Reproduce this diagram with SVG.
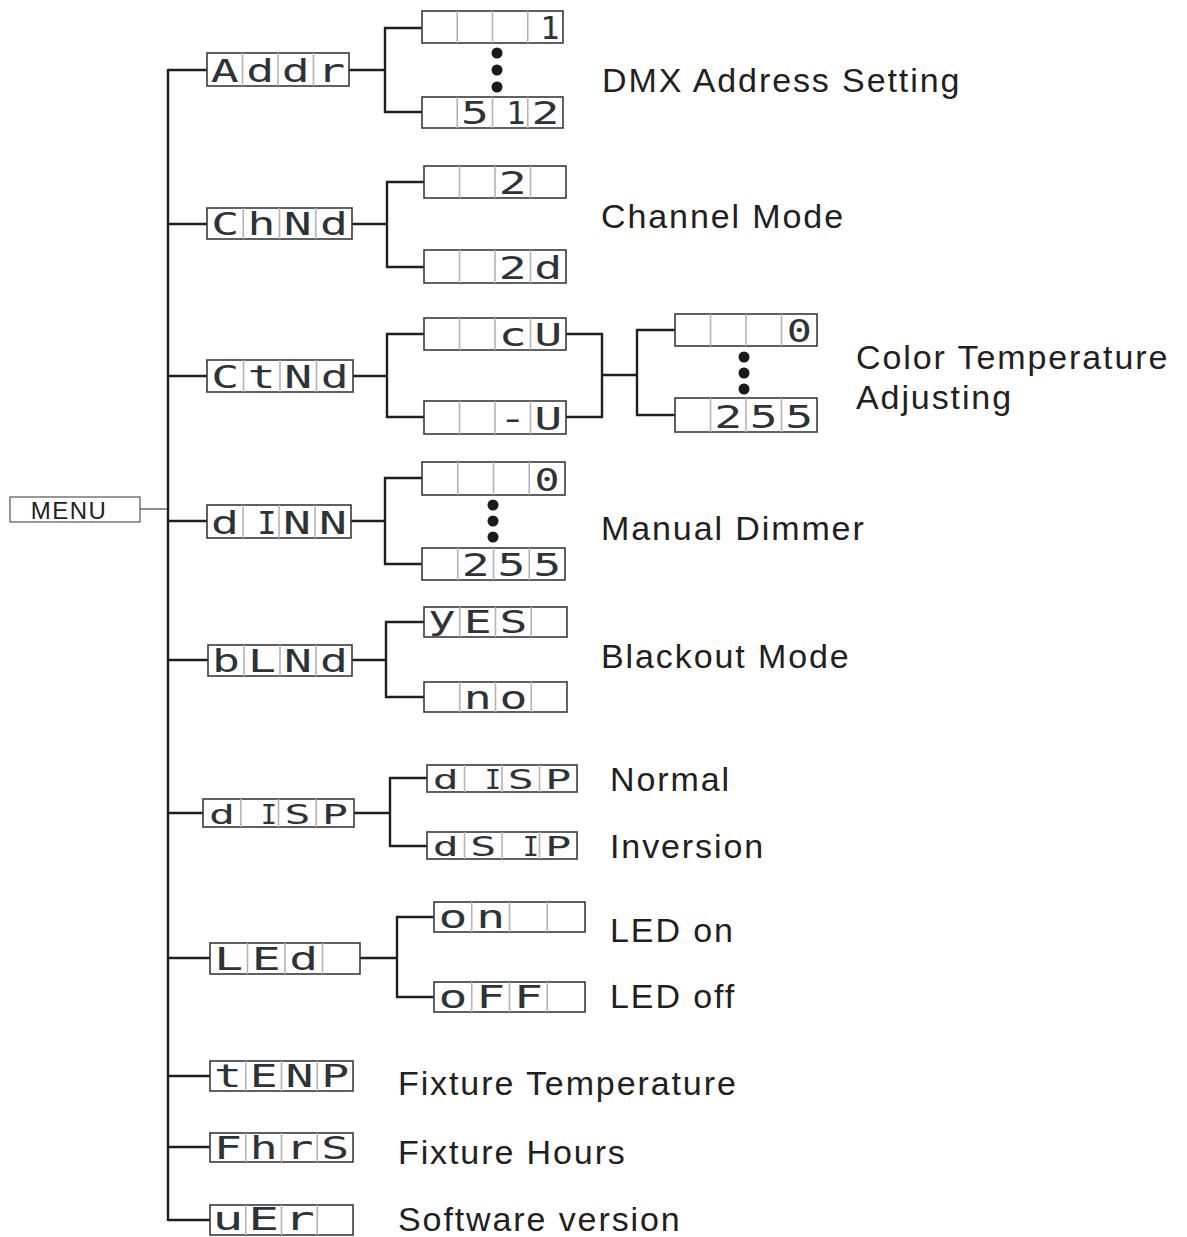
<svg xmlns="http://www.w3.org/2000/svg" width="1187" height="1237" viewBox="0 0 1187 1237">
<style>
.frame{fill:#fff;stroke:#3a3a3a;stroke-width:1.6}
.div{stroke:#b4b4b4;stroke-width:1.6}
.seg{font-family:"DejaVu Sans Mono",monospace;font-size:32px;text-anchor:middle;fill:#2d3438}
.segs{font-family:"DejaVu Sans Mono",monospace;font-size:27px;text-anchor:middle;fill:#2d3438}
.lbl{font-family:"Liberation Sans",Arial,sans-serif;font-size:34px;letter-spacing:1.9px;fill:#231f20}
.conn{fill:none;stroke:#1e1e1e;stroke-width:2.4}
.thin{fill:none;stroke:#444;stroke-width:1.2}
.dot{fill:#1a1a1a}
</style>
<rect width="1187" height="1237" fill="#fff"/>

<g id="connectors">
  <line class="thin" x1="140" y1="509" x2="168" y2="509"/>
  <line class="conn" x1="168" y1="69" x2="168" y2="1221"/>
  <line class="conn" x1="168" y1="70" x2="207" y2="70"/>
  <line class="conn" x1="168" y1="224" x2="207" y2="224"/>
  <line class="conn" x1="168" y1="376" x2="207" y2="376"/>
  <line class="conn" x1="168" y1="521" x2="207" y2="521"/>
  <line class="conn" x1="168" y1="660" x2="208" y2="660"/>
  <line class="conn" x1="168" y1="813" x2="203" y2="813"/>
  <line class="conn" x1="168" y1="958" x2="210" y2="958"/>
  <line class="conn" x1="168" y1="1076" x2="210" y2="1076"/>
  <line class="conn" x1="168" y1="1147" x2="210" y2="1147"/>
  <line class="conn" x1="168" y1="1220" x2="210" y2="1220"/>
  <polyline class="conn" points="349,70 385,70"/>
  <polyline class="conn" points="422,28 385,28 385,112 422,112"/>
  <polyline class="conn" points="352,224 387,224"/>
  <polyline class="conn" points="424,182 387,182 387,267 424,267"/>
  <polyline class="conn" points="353,376 387,376"/>
  <polyline class="conn" points="424,334 387,334 387,417 424,417"/>
  <polyline class="conn" points="566,334 602,334 602,417 566,417"/>
  <polyline class="conn" points="602,375 637,375"/>
  <polyline class="conn" points="675,330 637,330 637,415 675,415"/>
  <polyline class="conn" points="351,521 385,521"/>
  <polyline class="conn" points="422,478 385,478 385,564 422,564"/>
  <polyline class="conn" points="352,660 386,660"/>
  <polyline class="conn" points="424,622 386,622 386,697 424,697"/>
  <polyline class="conn" points="354,813 390,813"/>
  <polyline class="conn" points="427,778 390,778 390,846 427,846"/>
  <polyline class="conn" points="360,958 397,958"/>
  <polyline class="conn" points="434,917 397,917 397,997 434,997"/>
  <circle class="dot" cx="497" cy="53" r="5.5"/>
  <circle class="dot" cx="497" cy="70" r="5.5"/>
  <circle class="dot" cx="497" cy="87" r="5.5"/>
  <circle class="dot" cx="744" cy="357" r="5.5"/>
  <circle class="dot" cx="744" cy="373" r="5.5"/>
  <circle class="dot" cx="744" cy="389" r="5.5"/>
  <circle class="dot" cx="493" cy="505" r="5.5"/>
  <circle class="dot" cx="493" cy="521" r="5.5"/>
  <circle class="dot" cx="493" cy="537" r="5.5"/>
</g>

<g id="menu">
  <rect x="10" y="497" width="130" height="25" fill="#fff" stroke="#555" stroke-width="1.2"/>
  <text x="69" y="519" font-family="Liberation Sans, Arial, sans-serif" font-size="24" letter-spacing="1.5" text-anchor="middle" fill="#231f20">MENU</text>
</g>

<g id="addr" transform="translate(207,53)">
  <rect class="frame" width="142" height="33"/>
  <line class="div" x1="35.5" y1="0" x2="35.5" y2="33"/><line class="div" x1="71" y1="0" x2="71" y2="33"/><line class="div" x1="106.5" y1="0" x2="106.5" y2="33"/>
  <text class="seg" transform="translate(17.75 29) scale(1.45 1)">A</text>
  <text class="seg" transform="translate(53.25 29) scale(1.45 1)">d</text>
  <text class="seg" transform="translate(88.75 29) scale(1.45 1)">d</text>
  <text class="seg" transform="translate(124.25 29) scale(1.45 1)">r</text>
</g>
<g id="addr-1" transform="translate(422,11)">
  <rect class="frame" width="141" height="32"/>
  <line class="div" x1="35.25" y1="0" x2="35.25" y2="32"/><line class="div" x1="70.5" y1="0" x2="70.5" y2="32"/><line class="div" x1="105.75" y1="0" x2="105.75" y2="32"/>
  <text class="seg" x="128" y="28">1</text>
</g>
<g id="addr-512" transform="translate(422,97)">
  <rect class="frame" width="141" height="31"/>
  <line class="div" x1="35.25" y1="0" x2="35.25" y2="31"/><line class="div" x1="70.5" y1="0" x2="70.5" y2="31"/><line class="div" x1="105.75" y1="0" x2="105.75" y2="31"/>
  <text class="seg" transform="translate(52.9 27) scale(1.45 1)">5</text>
  <text class="seg" x="94" y="27">1</text>
  <text class="seg" transform="translate(123.4 27) scale(1.45 1)">2</text>
</g>

<g id="chnd" transform="translate(207,208)">
  <rect class="frame" width="145" height="31"/>
  <line class="div" x1="36.25" y1="0" x2="36.25" y2="31"/><line class="div" x1="72.5" y1="0" x2="72.5" y2="31"/><line class="div" x1="108.75" y1="0" x2="108.75" y2="31"/>
  <text class="seg" transform="translate(18.1 27) scale(1.45 1)">C</text>
  <text class="seg" transform="translate(54.4 27) scale(1.45 1)">h</text>
  <text class="seg" transform="translate(90.6 27) scale(1.45 1)">N</text>
  <text class="seg" transform="translate(126.9 27) scale(1.45 1)">d</text>
</g>
<g id="chnd-2" transform="translate(424,166)">
  <rect class="frame" width="142" height="32"/>
  <line class="div" x1="35.5" y1="0" x2="35.5" y2="32"/><line class="div" x1="71" y1="0" x2="71" y2="32"/><line class="div" x1="106.5" y1="0" x2="106.5" y2="32"/>
  <text class="seg" transform="translate(88.75 28) scale(1.45 1)">2</text>
</g>
<g id="chnd-2d" transform="translate(424,250)">
  <rect class="frame" width="142" height="33"/>
  <line class="div" x1="35.5" y1="0" x2="35.5" y2="33"/><line class="div" x1="71" y1="0" x2="71" y2="33"/><line class="div" x1="106.5" y1="0" x2="106.5" y2="33"/>
  <text class="seg" transform="translate(88.75 29) scale(1.45 1)">2</text>
  <text class="seg" transform="translate(124.25 29) scale(1.45 1)">d</text>
</g>

<g id="ctnd" transform="translate(207,360)">
  <rect class="frame" width="146" height="32"/>
  <line class="div" x1="36.5" y1="0" x2="36.5" y2="32"/><line class="div" x1="73" y1="0" x2="73" y2="32"/><line class="div" x1="109.5" y1="0" x2="109.5" y2="32"/>
  <text class="seg" transform="translate(18.25 28) scale(1.45 1)">C</text>
  <text class="seg" transform="translate(54.75 28) scale(1.45 1)">t</text>
  <text class="seg" transform="translate(91.25 28) scale(1.45 1)">N</text>
  <text class="seg" transform="translate(127.75 28) scale(1.45 1)">d</text>
</g>
<g id="ctnd-cu" transform="translate(424,318)">
  <rect class="frame" width="142" height="32"/>
  <line class="div" x1="35.5" y1="0" x2="35.5" y2="32"/><line class="div" x1="71" y1="0" x2="71" y2="32"/><line class="div" x1="106.5" y1="0" x2="106.5" y2="32"/>
  <text class="seg" transform="translate(88.75 28) scale(1.45 1)">c</text>
  <text class="seg" transform="translate(124.25 28) scale(1.45 1)">U</text>
</g>
<g id="ctnd-wu" transform="translate(424,401)">
  <rect class="frame" width="142" height="33"/>
  <line class="div" x1="35.5" y1="0" x2="35.5" y2="33"/><line class="div" x1="71" y1="0" x2="71" y2="33"/><line class="div" x1="106.5" y1="0" x2="106.5" y2="33"/>
  <text class="seg" transform="translate(88.75 29) scale(1.45 1)">-</text>
  <text class="seg" transform="translate(124.25 29) scale(1.45 1)">U</text>
</g>
<g id="ct-0" transform="translate(675,314)">
  <rect class="frame" width="142" height="32"/>
  <line class="div" x1="35.5" y1="0" x2="35.5" y2="32"/><line class="div" x1="71" y1="0" x2="71" y2="32"/><line class="div" x1="106.5" y1="0" x2="106.5" y2="32"/>
  <text class="seg" transform="translate(124.25 28) scale(1.3 1)">0</text>
</g>
<g id="ct-255" transform="translate(675,398)">
  <rect class="frame" width="142" height="34"/>
  <line class="div" x1="35.5" y1="0" x2="35.5" y2="34"/><line class="div" x1="71" y1="0" x2="71" y2="34"/><line class="div" x1="106.5" y1="0" x2="106.5" y2="34"/>
  <text class="seg" transform="translate(53.25 30) scale(1.45 1)">2</text>
  <text class="seg" transform="translate(88.75 30) scale(1.45 1)">5</text>
  <text class="seg" transform="translate(124.25 30) scale(1.45 1)">5</text>
</g>

<g id="dinn" transform="translate(207,505)">
  <rect class="frame" width="144" height="33"/>
  <line class="div" x1="36" y1="0" x2="36" y2="33"/><line class="div" x1="72" y1="0" x2="72" y2="33"/><line class="div" x1="108" y1="0" x2="108" y2="33"/>
  <text class="seg" transform="translate(18 29) scale(1.45 1)">d</text>
  <text class="seg" x="60" y="29">I</text>
  <text class="seg" transform="translate(90 29) scale(1.45 1)">N</text>
  <text class="seg" transform="translate(126 29) scale(1.45 1)">N</text>
</g>
<g id="dinn-0" transform="translate(422,462)">
  <rect class="frame" width="143" height="33"/>
  <line class="div" x1="35.75" y1="0" x2="35.75" y2="33"/><line class="div" x1="71.5" y1="0" x2="71.5" y2="33"/><line class="div" x1="107.25" y1="0" x2="107.25" y2="33"/>
  <text class="seg" transform="translate(125.1 29) scale(1.3 1)">0</text>
</g>
<g id="dinn-255" transform="translate(422,548)">
  <rect class="frame" width="143" height="32"/>
  <line class="div" x1="35.75" y1="0" x2="35.75" y2="32"/><line class="div" x1="71.5" y1="0" x2="71.5" y2="32"/><line class="div" x1="107.25" y1="0" x2="107.25" y2="32"/>
  <text class="seg" transform="translate(53.6 28) scale(1.45 1)">2</text>
  <text class="seg" transform="translate(89.4 28) scale(1.45 1)">5</text>
  <text class="seg" transform="translate(125.1 28) scale(1.45 1)">5</text>
</g>

<g id="blnd" transform="translate(208,645)">
  <rect class="frame" width="144" height="31"/>
  <line class="div" x1="36" y1="0" x2="36" y2="31"/><line class="div" x1="72" y1="0" x2="72" y2="31"/><line class="div" x1="108" y1="0" x2="108" y2="31"/>
  <text class="seg" transform="translate(18 27) scale(1.45 1)">b</text>
  <text class="seg" transform="translate(54 27) scale(1.45 1)">L</text>
  <text class="seg" transform="translate(90 27) scale(1.45 1)">N</text>
  <text class="seg" transform="translate(126 27) scale(1.45 1)">d</text>
</g>
<g id="blnd-yes" transform="translate(424,607)">
  <rect class="frame" width="143" height="30"/>
  <line class="div" x1="35.75" y1="0" x2="35.75" y2="30"/><line class="div" x1="71.5" y1="0" x2="71.5" y2="30"/><line class="div" x1="107.25" y1="0" x2="107.25" y2="30"/>
  <text class="seg" transform="translate(17.9 22) scale(1.45 1)">y</text>
  <text class="seg" transform="translate(53.6 26) scale(1.45 1)">E</text>
  <text class="seg" transform="translate(89.4 26) scale(1.45 1)">S</text>
</g>
<g id="blnd-no" transform="translate(424,682)">
  <rect class="frame" width="143" height="30"/>
  <line class="div" x1="35.75" y1="0" x2="35.75" y2="30"/><line class="div" x1="71.5" y1="0" x2="71.5" y2="30"/><line class="div" x1="107.25" y1="0" x2="107.25" y2="30"/>
  <text class="seg" transform="translate(53.6 27) scale(1.45 1)">n</text>
  <text class="seg" transform="translate(89.4 27) scale(1.45 1)">o</text>
</g>

<g id="disp" transform="translate(203,799)">
  <rect class="frame" width="151" height="28"/>
  <line class="div" x1="37.75" y1="0" x2="37.75" y2="28"/><line class="div" x1="75.5" y1="0" x2="75.5" y2="28"/><line class="div" x1="113.25" y1="0" x2="113.25" y2="28"/>
  <text class="segs" transform="translate(18.9 25) scale(1.6 1)">d</text>
  <text class="segs" x="66" y="25">I</text>
  <text class="segs" transform="translate(94.4 25) scale(1.6 1)">S</text>
  <text class="segs" transform="translate(132.1 25) scale(1.6 1)">P</text>
</g>
<g id="disp-normal" transform="translate(427,765)">
  <rect class="frame" width="150" height="27"/>
  <line class="div" x1="37.5" y1="0" x2="37.5" y2="27"/><line class="div" x1="75" y1="0" x2="75" y2="27"/><line class="div" x1="112.5" y1="0" x2="112.5" y2="27"/>
  <text class="segs" transform="translate(18.75 24) scale(1.6 1)">d</text>
  <text class="segs" x="66" y="24">I</text>
  <text class="segs" transform="translate(93.75 24) scale(1.6 1)">S</text>
  <text class="segs" transform="translate(131.25 24) scale(1.6 1)">P</text>
</g>
<g id="disp-inversion" transform="translate(427,832)">
  <rect class="frame" width="150" height="27"/>
  <line class="div" x1="37.5" y1="0" x2="37.5" y2="27"/><line class="div" x1="75" y1="0" x2="75" y2="27"/><line class="div" x1="112.5" y1="0" x2="112.5" y2="27"/>
  <text class="segs" transform="translate(18.75 24) scale(1.6 1)">d</text>
  <text class="segs" transform="translate(56.25 24) scale(1.6 1)">S</text>
  <text class="segs" x="104" y="24">I</text>
  <text class="segs" transform="translate(131.25 24) scale(1.6 1)">P</text>
</g>

<g id="led" transform="translate(210,943)">
  <rect class="frame" width="150" height="31"/>
  <line class="div" x1="37.5" y1="0" x2="37.5" y2="31"/><line class="div" x1="75" y1="0" x2="75" y2="31"/><line class="div" x1="112.5" y1="0" x2="112.5" y2="31"/>
  <text class="seg" transform="translate(18.75 27) scale(1.5 1)">L</text>
  <text class="seg" transform="translate(56.25 27) scale(1.5 1)">E</text>
  <text class="seg" transform="translate(93.75 27) scale(1.5 1)">d</text>
</g>
<g id="led-on" transform="translate(434,902)">
  <rect class="frame" width="151" height="30"/>
  <line class="div" x1="37.75" y1="0" x2="37.75" y2="30"/><line class="div" x1="75.5" y1="0" x2="75.5" y2="30"/><line class="div" x1="113.25" y1="0" x2="113.25" y2="30"/>
  <text class="seg" transform="translate(18.9 26) scale(1.5 1)">o</text>
  <text class="seg" transform="translate(56.6 26) scale(1.5 1)">n</text>
</g>
<g id="led-off" transform="translate(434,982)">
  <rect class="frame" width="151" height="30"/>
  <line class="div" x1="37.75" y1="0" x2="37.75" y2="30"/><line class="div" x1="75.5" y1="0" x2="75.5" y2="30"/><line class="div" x1="113.25" y1="0" x2="113.25" y2="30"/>
  <text class="seg" transform="translate(18.9 26) scale(1.5 1)">o</text>
  <text class="seg" transform="translate(56.6 26) scale(1.5 1)">F</text>
  <text class="seg" transform="translate(94.4 26) scale(1.5 1)">F</text>
</g>

<g id="tenp" transform="translate(210,1061)">
  <rect class="frame" width="143" height="30"/>
  <line class="div" x1="35.75" y1="0" x2="35.75" y2="30"/><line class="div" x1="71.5" y1="0" x2="71.5" y2="30"/><line class="div" x1="107.25" y1="0" x2="107.25" y2="30"/>
  <text class="seg" transform="translate(17.9 26) scale(1.45 1)">t</text>
  <text class="seg" transform="translate(53.6 26) scale(1.45 1)">E</text>
  <text class="seg" transform="translate(89.4 26) scale(1.45 1)">N</text>
  <text class="seg" transform="translate(125.1 26) scale(1.45 1)">P</text>
</g>
<g id="fhrs" transform="translate(210,1133)">
  <rect class="frame" width="143" height="29"/>
  <line class="div" x1="35.75" y1="0" x2="35.75" y2="29"/><line class="div" x1="71.5" y1="0" x2="71.5" y2="29"/><line class="div" x1="107.25" y1="0" x2="107.25" y2="29"/>
  <text class="seg" transform="translate(17.9 26) scale(1.45 1)">F</text>
  <text class="seg" transform="translate(53.6 26) scale(1.45 1)">h</text>
  <text class="seg" transform="translate(89.4 26) scale(1.45 1)">r</text>
  <text class="seg" transform="translate(125.1 26) scale(1.45 1)">S</text>
</g>
<g id="ver" transform="translate(210,1205)">
  <rect class="frame" width="143" height="30"/>
  <line class="div" x1="35.75" y1="0" x2="35.75" y2="30"/><line class="div" x1="71.5" y1="0" x2="71.5" y2="30"/><line class="div" x1="107.25" y1="0" x2="107.25" y2="30"/>
  <text class="seg" font-size="28" transform="translate(17.9 25) scale(1.6 1)">u</text>
  <text class="seg" font-size="28" transform="translate(53.6 25) scale(1.6 1)">E</text>
  <text class="seg" font-size="28" transform="translate(89.4 25) scale(1.6 1)">r</text>
</g>

<g id="labels">
  <text class="lbl" x="602" y="92">DMX Address Setting</text>
  <text class="lbl" x="601" y="228">Channel Mode</text>
  <text class="lbl" x="856" y="369">Color Temperature</text>
  <text class="lbl" x="856" y="409">Adjusting</text>
  <text class="lbl" x="601" y="540">Manual Dimmer</text>
  <text class="lbl" x="601" y="668">Blackout Mode</text>
  <text class="lbl" x="610" y="791">Normal</text>
  <text class="lbl" x="610" y="858">Inversion</text>
  <text class="lbl" x="610" y="942">LED on</text>
  <text class="lbl" x="610" y="1008">LED off</text>
  <text class="lbl" x="398" y="1095">Fixture Temperature</text>
  <text class="lbl" x="398" y="1164">Fixture Hours</text>
  <text class="lbl" x="398" y="1231">Software version</text>
</g>
</svg>
